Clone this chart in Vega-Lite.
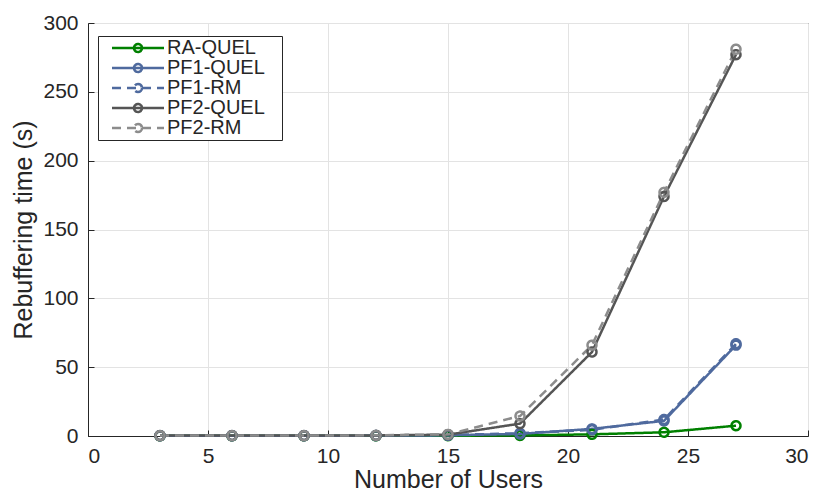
{
  "$schema": "https://vega.github.io/schema/vega-lite/v6.json",
  "width": 720,
  "height": 413,
  "autosize": "none",
  "padding": {"left": 88, "top": 23, "right": 20, "bottom": 62},
  "background": "white",
  "config": {
    "font": "Liberation Sans",
    "view": {"stroke": "#262626", "strokeWidth": 1},
    "axis": {
      "labelFont": "Liberation Sans", "titleFont": "Liberation Sans",
      "labelFontSize": 21, "titleFontSize": 25, "labelColor": "#262626", "titleColor": "#262626",
      "titleFontWeight": "normal", "domainColor": "#262626", "tickColor": "#262626",
      "gridColor": "#e3e3e3", "gridOpacity": 1, "tickSize": -6
    }
  },
  "data": {"values": [
    {"users": 3, "t": 0.1, "s": "RA-QUEL"}, {"users": 6, "t": 0.1, "s": "RA-QUEL"}, {"users": 9, "t": 0.1, "s": "RA-QUEL"}, {"users": 12, "t": 0.1, "s": "RA-QUEL"}, {"users": 15, "t": 0.2, "s": "RA-QUEL"}, {"users": 18, "t": 0.4, "s": "RA-QUEL"}, {"users": 21, "t": 1.2, "s": "RA-QUEL"}, {"users": 24, "t": 2.7, "s": "RA-QUEL"}, {"users": 27, "t": 7.5, "s": "RA-QUEL"},
    {"users": 3, "t": 0.2, "s": "PF1-QUEL"}, {"users": 6, "t": 0.2, "s": "PF1-QUEL"}, {"users": 9, "t": 0.2, "s": "PF1-QUEL"}, {"users": 12, "t": 0.3, "s": "PF1-QUEL"}, {"users": 15, "t": 0.5, "s": "PF1-QUEL"}, {"users": 18, "t": 1.5, "s": "PF1-QUEL"}, {"users": 21, "t": 5.2, "s": "PF1-QUEL"}, {"users": 24, "t": 11, "s": "PF1-QUEL"}, {"users": 27, "t": 66, "s": "PF1-QUEL"},
    {"users": 3, "t": 0.3, "s": "PF1-RM"}, {"users": 6, "t": 0.3, "s": "PF1-RM"}, {"users": 9, "t": 0.3, "s": "PF1-RM"}, {"users": 12, "t": 0.4, "s": "PF1-RM"}, {"users": 15, "t": 0.7, "s": "PF1-RM"}, {"users": 18, "t": 2, "s": "PF1-RM"}, {"users": 21, "t": 4.5, "s": "PF1-RM"}, {"users": 24, "t": 12, "s": "PF1-RM"}, {"users": 27, "t": 67, "s": "PF1-RM"},
    {"users": 3, "t": 0.3, "s": "PF2-QUEL"}, {"users": 6, "t": 0.3, "s": "PF2-QUEL"}, {"users": 9, "t": 0.3, "s": "PF2-QUEL"}, {"users": 12, "t": 0.4, "s": "PF2-QUEL"}, {"users": 15, "t": 1, "s": "PF2-QUEL"}, {"users": 18, "t": 9, "s": "PF2-QUEL"}, {"users": 21, "t": 61, "s": "PF2-QUEL"}, {"users": 24, "t": 174, "s": "PF2-QUEL"}, {"users": 27, "t": 277, "s": "PF2-QUEL"},
    {"users": 3, "t": 0.3, "s": "PF2-RM"}, {"users": 6, "t": 0.3, "s": "PF2-RM"}, {"users": 9, "t": 0.3, "s": "PF2-RM"}, {"users": 12, "t": 0.5, "s": "PF2-RM"}, {"users": 15, "t": 1.2, "s": "PF2-RM"}, {"users": 18, "t": 14.5, "s": "PF2-RM"}, {"users": 21, "t": 66, "s": "PF2-RM"}, {"users": 24, "t": 177, "s": "PF2-RM"}, {"users": 27, "t": 281, "s": "PF2-RM"}
  ]},
  "encoding": {
    "x": {"field": "users", "type": "quantitative", "title": "Number of Users",
      "scale": {"domain": [0, 30], "nice": false}, "axis": {"values": [0,5,10,15,20,25,30], "labelPadding": 15, "titlePadding": 1}},
    "y": {"field": "t", "type": "quantitative", "title": "Rebuffering time (s)",
      "scale": {"domain": [0, 300], "nice": false}, "axis": {"values": [0,50,100,150,200,250,300], "labelPadding": 16, "titlePadding": 6}},
    "color": {"field": "s", "type": "nominal",
      "scale": {"domain": ["RA-QUEL","PF1-QUEL","PF1-RM","PF2-QUEL","PF2-RM"], "range": ["#008000","#4f6a9e","#4f6a9e","#555555","#8c8c8c"]},
      "legend": {"title": null, "orient": "none", "legendX": 10, "legendY": 13, "fillColor": "white", "strokeColor": "#262626", "padding": 2,
        "symbolType": "M-5.2,0 H5.2 M0.8,0 A0.8,0.8 0 1 1 -0.8,0 A0.8,0.8 0 1 1 0.8,0",
        "symbolSize": 100, "symbolOffset": 28, "labelOffset": 19, "symbolFillColor": "transparent", "symbolOpacity": 1,
        "labelExpr": "datum.label + '\u2800'",
        "labelFontSize": 20, "labelFont": "Liberation Sans", "labelColor": "#262626", "symbolStrokeWidth": 2.5, "rowPadding": 0, "labelLimit": 300}},
    "strokeDash": {"field": "s", "type": "nominal",
      "scale": {"domain": ["RA-QUEL","PF1-QUEL","PF1-RM","PF2-QUEL","PF2-RM"], "range": [[1,0],[1,0],[9,6],[1,0],[9,6]]},
      "legend": null},
    "order": {"field": "users", "type": "quantitative"}
  },
  "layer": [
    {"mark": {"type": "line", "strokeWidth": 2.5}},
    {"mark": {"type": "point", "shape": "circle", "filled": false, "strokeWidth": 2.5, "size": 80, "opacity": 1}, "encoding": {"strokeDash": {"value": [1,0]}}}
  ]
}
